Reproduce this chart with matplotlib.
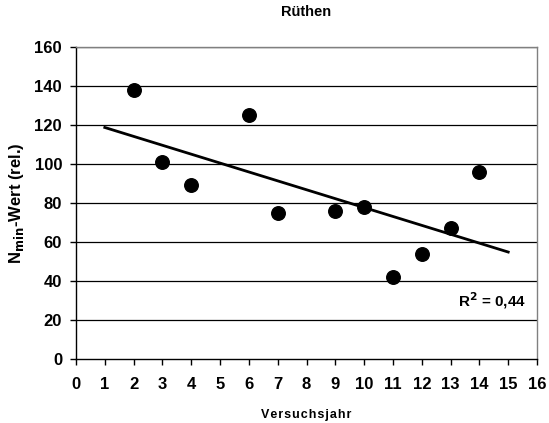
import numpy as np
import matplotlib
matplotlib.use('Agg')
import matplotlib.pyplot as plt

plt.rcParams['font.family'] = ['Liberation Sans', 'DejaVu Sans']
plt.rcParams['font.weight'] = 'bold'
plt.rcParams['mathtext.default'] = 'bf'

# measured points (year, relative Nmin)
years  = [2, 3, 4, 6, 7, 9, 10, 11, 12, 13, 14]
values = [138, 101, 89, 125, 75, 76, 78, 42, 54, 67, 96]
x_ticks = list(range(0, 17))
y_ticks = list(range(0, 161, 20))

slope, icept = np.polyfit(years, values, 1)
trend_x = np.array([1, 15])

fig = plt.figure(figsize=(5.49, 4.23), dpi=100)
ax = fig.add_axes([0.1384, 0.1513, 0.8398, 0.7376])

for yv in y_ticks[1:]:
    ax.axhline(yv, color='black', lw=0.9, zorder=1)

ax.plot(trend_x, icept + slope * trend_x, color='black', lw=2.0, zorder=2)
ax.scatter(years, values, s=95, c='black', zorder=3)

ax.text(15.6, 30, 'R$^2$ = 0,44', ha='right', va='center',
        fontsize=11, fontweight='bold')

ax.set_xlim(0, 16)
ax.set_ylim(0, 160)
ax.set_xticks(x_ticks)
ax.set_yticks(y_ticks)
ax.tick_params(labelsize=12, width=1.0, length=4, direction='out')
ax.tick_params(axis='x', pad=9)
ax.tick_params(axis='y', pad=6)

ax.spines['left'].set_color('black')
ax.spines['bottom'].set_color('black')
ax.spines['right'].set_color('#808080')
ax.spines['top'].set_color('#808080')
for sp in ax.spines.values():
    sp.set_linewidth(1.0)

ax.set_title('Rüthen', fontsize=10.5, fontweight='bold', pad=22)
ax.set_xlabel('\u200a'.join('Versuchsjahr'), fontsize=9,
              fontweight='bold', labelpad=12)
ax.set_ylabel(r'N$_{\mathbf{min}}$-Wert (rel.)', fontsize=12,
              fontweight='bold', labelpad=6)

fig.savefig('out.png', dpi=100)
